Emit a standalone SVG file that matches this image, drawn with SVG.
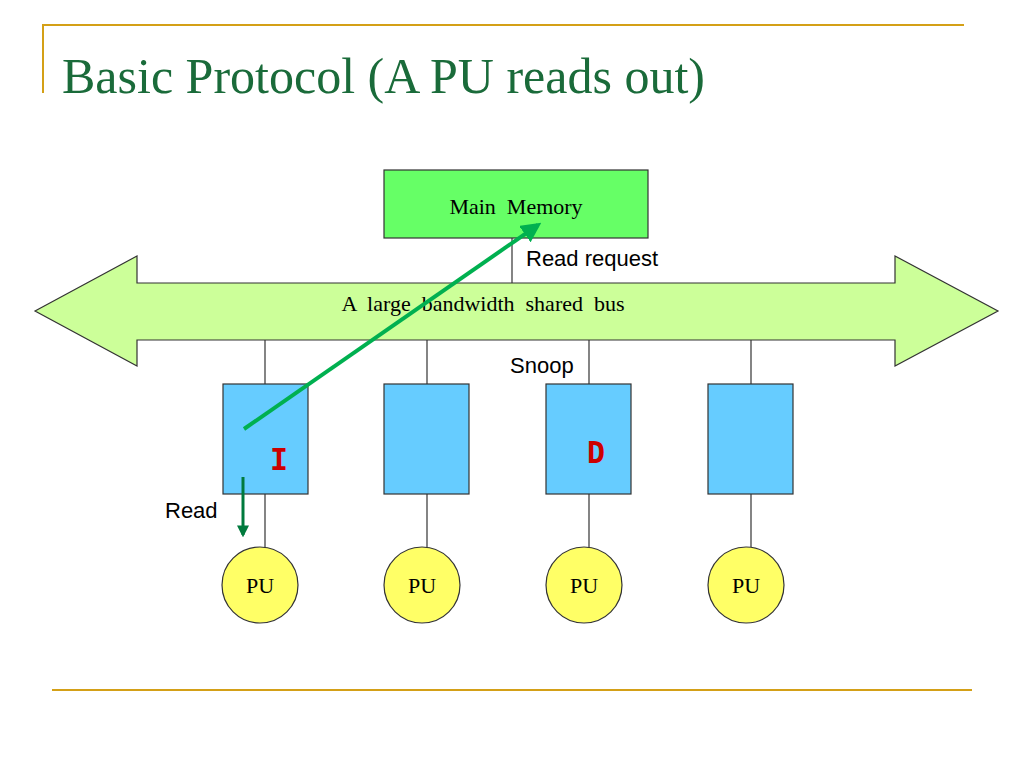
<svg xmlns="http://www.w3.org/2000/svg" width="1024" height="768" viewBox="0 0 1024 768">
<style>
.s{font-family:"Liberation Serif",serif;fill:#000}
.a{font-family:"Liberation Sans",sans-serif;fill:#000}
.ln{stroke:#333;stroke-width:1.2;fill:none}
.cache{fill:#66ccff;stroke:#333;stroke-width:1.2}
.pu{fill:#ffff66;stroke:#333;stroke-width:1.2}
.st{font-family:"DejaVu Sans Mono",monospace;font-weight:bold;fill:#cc0000;font-size:30px}
</style>
<defs>
<marker id="ga" viewBox="0 0 10 10" refX="8" refY="5" markerWidth="5" markerHeight="5" orient="auto"><path d="M0,0L10,5L0,10z" fill="#00b050"/></marker>
<marker id="da" viewBox="0 0 10 10" refX="8" refY="5" markerWidth="4" markerHeight="4" orient="auto"><path d="M0,0L10,5L0,10z" fill="#007a3d"/></marker>
</defs>
<rect width="1024" height="768" fill="#fff"/>
<line x1="42" y1="25" x2="964" y2="25" stroke="#d4a017" stroke-width="2"/>
<line x1="43" y1="25" x2="43" y2="93" stroke="#d4a017" stroke-width="2"/>
<line x1="52" y1="690" x2="972" y2="690" stroke="#d4a017" stroke-width="2"/>
<text x="62" y="93" font-family="Liberation Serif,serif" font-size="50" fill="#1a6b3a">Basic Protocol (A PU reads out)</text>
<g id="connectors">
<line class="ln" x1="512" y1="238" x2="512" y2="283"/>
<line class="ln" x1="265" y1="340" x2="265" y2="384"/>
<line class="ln" x1="427" y1="340" x2="427" y2="384"/>
<line class="ln" x1="589" y1="340" x2="589" y2="384"/>
<line class="ln" x1="751" y1="340" x2="751" y2="384"/>
<line class="ln" x1="265" y1="494" x2="265" y2="547"/>
<line class="ln" x1="427" y1="494" x2="427" y2="547"/>
<line class="ln" x1="589" y1="494" x2="589" y2="547"/>
<line class="ln" x1="751" y1="494" x2="751" y2="547"/>
</g>
<g id="memory"><rect x="384" y="170" width="264" height="68" fill="#66ff66" stroke="#333" stroke-width="1.2"/>
<text class="s" x="516" y="214" font-size="22" text-anchor="middle" xml:space="preserve">Main  Memory</text></g>
<g id="bus"><polygon points="35,311 137,256 137,283 895,283 895,256 998,311 895,366 895,340 137,340 137,366" fill="#ccff99" stroke="#333" stroke-width="1.2"/>
<text class="s" x="483" y="311" font-size="22" text-anchor="middle" xml:space="preserve">A  large  bandwidth  shared  bus</text></g>
<g id="c1"><rect class="cache" x="223" y="384" width="85" height="110"/><text class="st" x="279" y="470" text-anchor="middle">I</text></g>
<g id="c2"><rect class="cache" x="384" y="384" width="85" height="110"/></g>
<g id="c3"><rect class="cache" x="546" y="384" width="85" height="110"/><text class="st" x="596" y="463" text-anchor="middle">D</text></g>
<g id="c4"><rect class="cache" x="708" y="384" width="85" height="110"/></g>
<g id="p1"><circle class="pu" cx="260" cy="585" r="38"/><text class="s" x="260" y="593" font-size="22" text-anchor="middle">PU</text></g>
<g id="p2"><circle class="pu" cx="422" cy="585" r="38"/><text class="s" x="422" y="593" font-size="22" text-anchor="middle">PU</text></g>
<g id="p3"><circle class="pu" cx="584" cy="585" r="38"/><text class="s" x="584" y="593" font-size="22" text-anchor="middle">PU</text></g>
<g id="p4"><circle class="pu" cx="746" cy="585" r="38"/><text class="s" x="746" y="593" font-size="22" text-anchor="middle">PU</text></g>
<g id="arrows">
<line x1="244" y1="429" x2="538" y2="225" stroke="#00b050" stroke-width="4" marker-end="url(#ga)"/>
<line x1="243" y1="477" x2="243" y2="535" stroke="#007a3d" stroke-width="3" marker-end="url(#da)"/>
</g>
<text class="a" x="526" y="266" font-size="22">Read request</text>
<text class="a" x="510" y="373" font-size="22">Snoop</text>
<text class="a" x="165" y="518" font-size="22">Read</text>
</svg>
